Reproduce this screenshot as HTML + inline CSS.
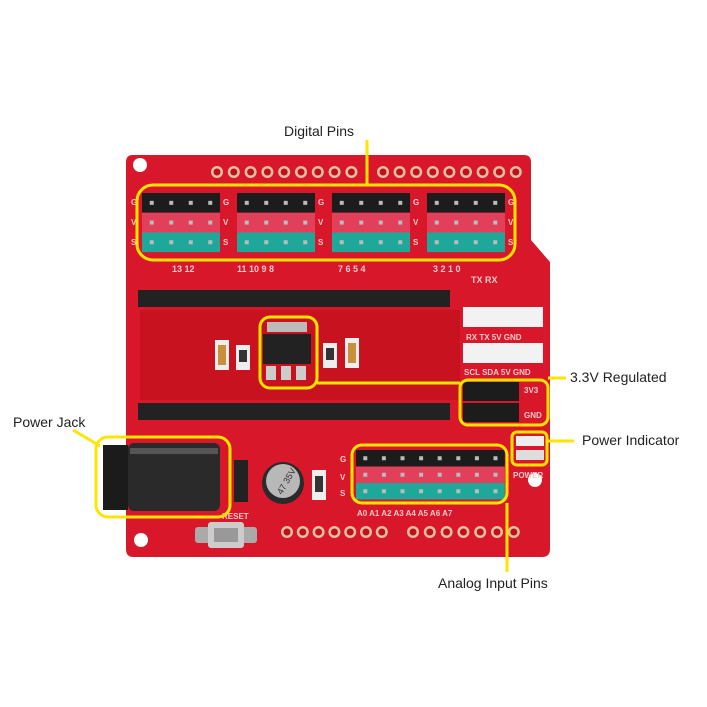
<!DOCTYPE html>
<html><head><meta charset="utf-8"><style>
html,body{margin:0;padding:0;background:#fff;}
svg{display:block;}
text{font-family:"Liberation Sans",sans-serif;}
</style></head><body>
<svg id="s" width="707" height="707" viewBox="0 0 707 707" xmlns="http://www.w3.org/2000/svg">
<rect width="707" height="707" fill="#fff"/>
<!-- board -->
<path d="M133,155 L524,155 Q531,155 531,162 L531,240 L550,262 L550,549 Q550,557 542,557 L133,557 Q126,557 126,549 L126,162 Q126,155 133,155 Z" fill="#d8182a"/>
<rect x="140" y="310" width="320" height="90" fill="#c8121f"/>
<g id="g"></g>
<!-- long headers -->
<rect x="138" y="290" width="312" height="17" fill="#222"/>
<rect x="138" y="403" width="312" height="17" fill="#222"/>
<!-- regulator -->
<rect x="267" y="322" width="40" height="10" fill="#bbb"/>
<rect x="263" y="334" width="48" height="30" fill="#222"/>
<rect x="266" y="366" width="10" height="14" fill="#ccc"/><rect x="281" y="366" width="10" height="14" fill="#ccc"/><rect x="296" y="366" width="10" height="14" fill="#ccc"/>
<rect x="215" y="340" width="14" height="30" fill="#eee"/><rect x="218" y="345" width="8" height="20" fill="#c8903a"/>
<rect x="236" y="345" width="14" height="25" fill="#eee"/><rect x="239" y="350" width="8" height="12" fill="#333"/>
<rect x="323" y="343" width="14" height="25" fill="#eee"/><rect x="326" y="348" width="8" height="12" fill="#333"/>
<rect x="345" y="338" width="14" height="30" fill="#eee"/><rect x="348" y="343" width="8" height="20" fill="#c8903a"/>
<!-- white headers -->
<rect x="463" y="307" width="80" height="20" fill="#f2f2f2"/>
<rect x="463" y="343" width="80" height="20" fill="#f2f2f2"/>
<g font-size="8" fill="#f3c9c9" font-weight="bold">
<text x="466" y="340">RX TX 5V GND</text>
<text x="464" y="375">SCL SDA 5V GND</text>
<text x="524" y="393">3V3</text>
<text x="524" y="418">GND</text>
<text x="513" y="478">POWER</text>
</g>
<rect x="463" y="382" width="56" height="19" fill="#1c1c1c"/>
<rect x="463" y="403" width="56" height="19" fill="#1c1c1c"/>
<rect x="516" y="436" width="28" height="10" fill="#eee"/><rect x="516" y="450" width="28" height="10" fill="#ddd"/>
<!-- power jack -->
<rect x="103" y="445" width="25" height="65" fill="#1b1b1b"/>
<rect x="128" y="443" width="92" height="68" rx="6" fill="#2a2a2a"/>
<rect x="130" y="448" width="88" height="6" fill="#555"/>
<rect x="234" y="460" width="14" height="42" fill="#222"/>
<!-- capacitor -->
<circle cx="283" cy="483" r="21" fill="#2a2a2a"/>
<circle cx="283" cy="481" r="17" fill="#b8b8b8"/>
<text x="272" y="488" font-size="9" fill="#333" transform="rotate(-60 283 483)">47 35V</text>
<rect x="312" y="470" width="14" height="30" fill="#eee"/><rect x="315" y="476" width="8" height="16" fill="#333"/>
<!-- reset -->
<rect x="195" y="527" width="62" height="16" rx="3" fill="#aaa"/>
<rect x="208" y="522" width="36" height="26" rx="3" fill="#ccc"/>
<rect x="214" y="528" width="24" height="14" fill="#999"/>
<text x="222" y="519" font-size="8" fill="#f3c9c9" font-weight="bold">RESET</text>
<!-- yellow outlines -->
<g fill="none" stroke="#ffe400" stroke-width="3">
<rect x="137" y="185" width="378" height="75" rx="16"/>
<rect x="260" y="317" width="57" height="71" rx="10"/>
<rect x="460" y="380" width="88" height="45" rx="8"/>
<rect x="512" y="432" width="35" height="33" rx="5"/>
<rect x="352" y="445" width="155" height="58" rx="10"/>
<rect x="96" y="437" width="134" height="80" rx="12"/>
<path d="M367,140 L367,185"/>
<path d="M317,383 L460,383"/>
<path d="M548,378 L566,378"/>
<path d="M547,441 L574,441"/>
<path d="M507,503 L507,572"/>
<path d="M73,430 L100,446"/>
</g>
<g font-size="14" fill="#222">
<text x="284" y="136">Digital Pins</text>
<text x="570" y="382">3.3V  Regulated</text>
<text x="582" y="445">Power Indicator</text>
<text x="13" y="427">Power Jack</text>
<text x="438" y="588">Analog Input Pins</text>
</g>
</svg>
<script>
var g=document.getElementById('g'),ns='http://www.w3.org/2000/svg';
function el(t,a){var e=document.createElementNS(ns,t);for(var k in a)e.setAttribute(k,a[k]);g.appendChild(e);return e;}
function txt(x,y,s,sz){var e=el('text',{x:x,y:y,'font-size':sz||8,fill:'#f3c9c9','font-weight':'bold'});e.textContent=s;}
// top holes
for(var i=0;i<9;i++){el('circle',{cx:217+i*16.8,cy:172,r:6,fill:'#e8c0a0'});el('circle',{cx:217+i*16.8,cy:172,r:3.5,fill:'#c01020'});}
for(var i=0;i<9;i++){el('circle',{cx:383+i*16.6,cy:172,r:6,fill:'#e8c0a0'});el('circle',{cx:383+i*16.6,cy:172,r:3.5,fill:'#c01020'});}
// bottom holes
for(var i=0;i<7;i++){el('circle',{cx:287+i*15.8,cy:532,r:6,fill:'#e8c0a0'});el('circle',{cx:287+i*15.8,cy:532,r:3.5,fill:'#c01020'});}
for(var i=0;i<7;i++){el('circle',{cx:413+i*16.8,cy:532,r:6,fill:'#e8c0a0'});el('circle',{cx:413+i*16.8,cy:532,r:3.5,fill:'#c01020'});}
// mounting holes
[[140,165],[535,480],[141,540]].forEach(function(p){el('circle',{cx:p[0],cy:p[1],r:7,fill:'#fff'});});
var cols=['#1c1c1c','#e2405a','#1fa89a'];
function block(x,y,n,w,h){for(var r=0;r<3;r++){el('rect',{x:x,y:y+r*h,width:n*w,height:h,fill:cols[r]});for(var c=0;c<n;c++)el('rect',{x:x+c*w+w/2-2,y:y+r*h+h/2-2,width:4,height:4,fill:'#bbb'});}}
[142,237,332,427].forEach(function(x){block(x,193,4,19.5,19.7);txt(x+81,205,'G');txt(x+81,225,'V');txt(x+81,245,'S');});
txt(131,205,'G');txt(131,225,'V');txt(131,245,'S');
block(356,450,8,18.6,16.5);
txt(340,462,'G');txt(340,480,'V');txt(340,496,'S');
txt(172,272,'13 12',9);txt(237,272,'11  10   9   8',9);txt(338,272,'7   6   5   4',9);txt(433,272,'3   2   1   0',9);txt(471,283,'TX   RX',9);
txt(357,516,'A0  A1  A2  A3  A4  A5  A6  A7',8);
// header pin dots
for(var i=0;i<17;i++){el('rect',{x:144+i*18.3,y:296,width:4,height:4,fill:'#666'});el('rect',{x:144+i*18.3,y:409,width:4,height:4,fill:'#666'});}
</script>
</body></html>
